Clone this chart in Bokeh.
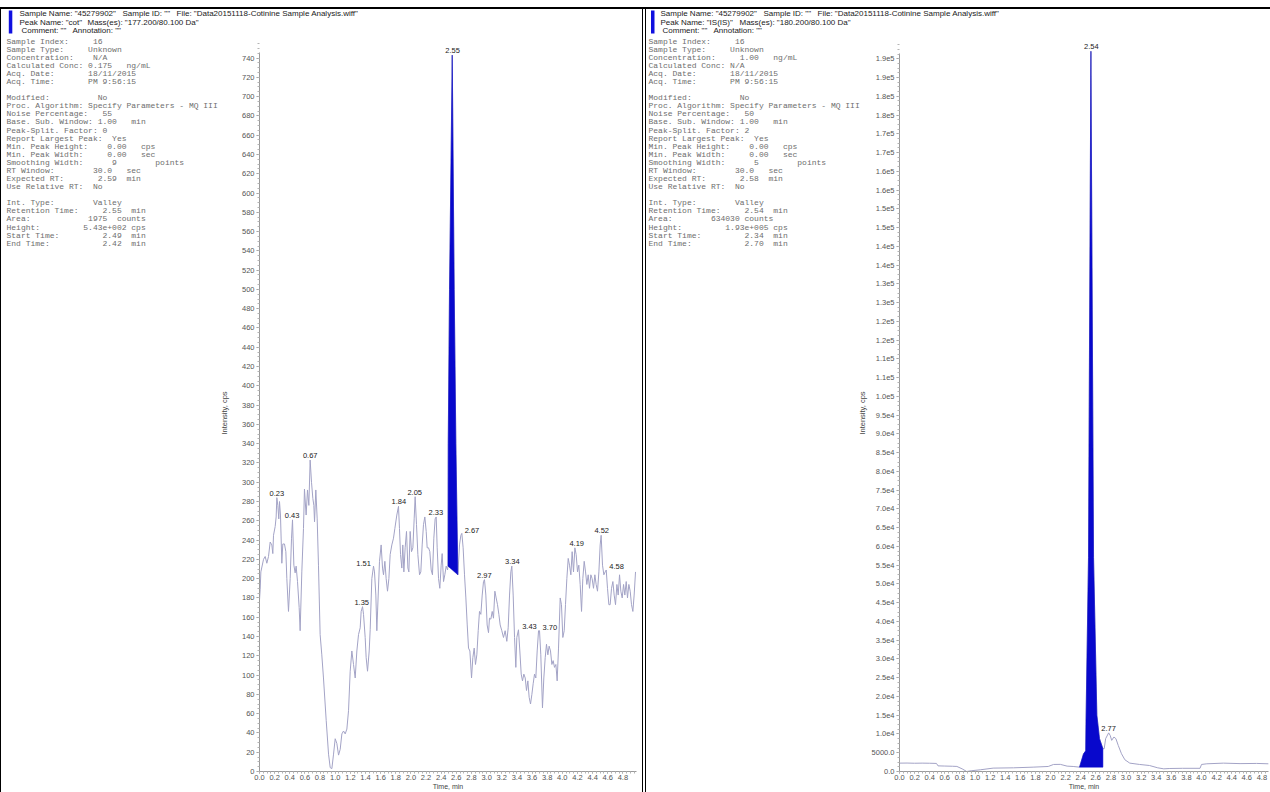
import math
from bokeh.plotting import figure
from bokeh.models import Range1d, FixedTicker
from bokeh.layouts import row, column
from bokeh.embed import file_html
from bokeh.resources import INLINE
from bokeh.core.properties import value

# ---------------- data: analyte "cot" (left) ----------------
cot_t = [0.000, 0.009, 0.018, 0.053, 0.075, 0.097, 0.119, 0.141, 0.163, 0.176, 0.185, 0.207, 0.220, 0.229,
         0.242, 0.255, 0.264, 0.277, 0.295, 0.308, 0.330, 0.348, 0.361, 0.383, 0.405, 0.423, 0.436, 0.454,
         0.471, 0.484, 0.502, 0.524, 0.537, 0.559, 0.581, 0.594, 0.616, 0.634, 0.652, 0.669, 0.687, 0.705,
         0.718, 0.727, 0.744, 0.762, 0.779, 0.801, 0.823, 0.845, 0.881, 0.912, 0.934, 0.956, 0.978, 1.000,
         1.022, 1.044, 1.066, 1.088, 1.110, 1.132, 1.154, 1.176, 1.198, 1.220, 1.242, 1.264, 1.286, 1.308,
         1.330, 1.343, 1.361, 1.374, 1.396, 1.409, 1.427, 1.449, 1.462, 1.484, 1.506, 1.519, 1.537, 1.550,
         1.568, 1.585, 1.607, 1.625, 1.638, 1.656, 1.673, 1.691, 1.709, 1.726, 1.748, 1.770, 1.788, 1.814,
         1.836, 1.849, 1.863, 1.880, 1.893, 1.907, 1.924, 1.942, 1.960, 1.973, 1.990, 2.008, 2.026, 2.043,
         2.056, 2.074, 2.092, 2.114, 2.131, 2.149, 2.166, 2.184, 2.202, 2.215, 2.233, 2.250, 2.268, 2.285,
         2.303, 2.320, 2.334, 2.347, 2.365, 2.382, 2.400, 2.413, 2.431, 2.448, 2.466, 2.484,
         2.490, 2.493, 2.510, 2.546, 2.572, 2.594, 2.620,
         2.642, 2.660, 2.673, 2.690, 2.708, 2.726, 2.744, 2.761, 2.779, 2.801, 2.818, 2.836, 2.853, 2.871,
         2.889, 2.906, 2.924, 2.942, 2.959, 2.972, 2.990, 3.007, 3.025, 3.038, 3.056, 3.074, 3.091, 3.109,
         3.126, 3.144, 3.162, 3.179, 3.201, 3.223, 3.245, 3.267, 3.285, 3.303, 3.320, 3.333, 3.351, 3.369,
         3.386, 3.399, 3.421, 3.439, 3.457, 3.474, 3.492, 3.510, 3.527, 3.545, 3.562, 3.580, 3.598, 3.615,
         3.633, 3.650, 3.668, 3.686, 3.699, 3.716, 3.738, 3.756, 3.774, 3.791, 3.809, 3.826, 3.844, 3.862,
         3.879, 3.897, 3.915, 3.932, 3.950, 3.972, 3.989, 4.007, 4.025, 4.042, 4.060, 4.078, 4.095, 4.113,
         4.130, 4.148, 4.166, 4.183, 4.201, 4.218, 4.236, 4.254, 4.271, 4.289, 4.307, 4.324, 4.342, 4.359,
         4.377, 4.394, 4.412, 4.430, 4.447, 4.465, 4.483, 4.500, 4.513, 4.531, 4.549, 4.566, 4.580, 4.597,
         4.615, 4.632, 4.650, 4.668, 4.685, 4.703, 4.721, 4.738, 4.756, 4.773, 4.791, 4.809, 4.826, 4.844,
         4.861, 4.879, 4.897, 4.914, 4.932, 4.949, 4.967]
cot_i = [178, 189, 207, 220, 223, 216, 223, 238, 235, 226, 245, 254, 264, 284,
         276, 262, 280, 266, 216, 236, 236, 228, 200, 166, 200, 242, 261, 214,
         206, 213, 197, 170, 146, 207, 252, 293, 266, 292, 276, 323, 300, 283,
         276, 259, 292, 262, 214, 142, 121, 97, 53, 18, 4, 3, 18, 34,
         29, 17, 23, 39, 42, 39, 44, 63, 104, 125, 111, 97, 125, 142,
         149, 166, 171, 163, 139, 118, 104, 125, 147, 200, 213, 207, 183, 146,
         183, 218, 235, 211, 204, 218, 200, 187, 200, 225, 235, 242, 252, 266,
         275, 252, 225, 211, 235, 207, 232, 249, 211, 207, 249, 228, 232, 262,
         285, 256, 225, 204, 207, 235, 256, 264, 249, 232, 232, 228, 209, 204,
         242, 262, 264, 232, 200, 190, 214, 226, 197, 204, 213, 209,
         213, 340, 500, 743, 500, 340, 204,
         235, 245, 247, 232, 204, 180, 152, 128, 125, 97, 118, 128, 111, 121,
         146, 166, 163, 183, 197, 199, 183, 152, 144, 159, 158, 166, 159, 187,
         180, 173, 163, 152, 146, 139, 146, 135, 149, 183, 207, 213, 183, 139,
         108, 139, 147, 125, 101, 94, 101, 97, 84, 94, 77, 70, 80, 91,
         101, 97, 125, 146, 146, 121, 66, 97, 118, 132, 121, 130, 125, 111,
         115, 108, 111, 94, 128, 180, 173, 139, 146, 173, 200, 221, 214, 204,
         228, 207, 232, 225, 207, 214, 194, 166, 200, 218, 207, 194, 204, 190,
         204, 200, 190, 204, 194, 187, 207, 235, 245, 214, 204, 207, 209, 190,
         173, 173, 190, 197, 183, 173, 194, 183, 204, 187, 180, 194, 183, 197,
         180, 194, 187, 173, 166, 183, 207]
cot_area_start = 2.490
cot_area_end = 2.620
cot_peak_rt = [0.23, 0.43, 0.67, 1.35, 1.51, 1.84, 2.05, 2.33, 2.55, 2.67, 2.97, 3.34, 3.43, 3.70, 4.19, 4.52, 4.58]
cot_peak_int = [284, 261, 323, 171, 213, 275, 285, 264, 743, 247, 199, 213, 147, 146, 232, 245, 209]
cot_peak_text = ["0.23", "0.43", "0.67", "1.35", "1.51", "1.84", "2.05", "2.33", "2.55", "2.67",
                 "2.97", "3.34", "3.43", "3.70", "4.19", "4.52", "4.58"]
cot_yticks = list(range(0, 741, 20))

# ---------------- data: internal standard "IS(IS)" (right) ----------------
is_t = [0.00, 0.10, 0.20, 0.30, 0.40, 0.49, 0.51, 0.60, 0.70, 0.76, 0.83, 0.89, 0.95, 1.07, 1.24, 1.51,
        1.77, 1.97, 2.04, 2.13, 2.22, 2.30, 2.384, 2.437, 2.466, 2.470, 2.503, 2.535, 2.570, 2.614, 2.649,
        2.694, 2.711, 2.730, 2.770, 2.790, 2.810, 2.840, 2.866, 2.897, 2.940, 2.985, 3.05, 3.18, 3.31,
        3.42, 3.50, 3.58, 3.75, 3.98, 4.00, 4.07, 4.29, 4.51, 4.73, 4.89]
is_i = [2230, 2250, 2200, 2230, 2200, 2150, 1500, 1450, 1400, 1350, 700, 0, 200, 450, 900, 980,
        1160, 1340, 1875, 1900, 1430, 1340, 1160, 4700, 5500, 13400, 57000, 192000, 57000, 15000, 8750,
        6070, 6070, 8750, 10300, 9640, 8300, 9200, 8750, 6960, 4730, 3125, 2230, 1875, 1600,
        980, 710, 800, 850, 850, 1875, 2050, 2230, 2100, 2150, 2050]
is_area_start = 2.384
is_area_end = 2.694
is_area_base = 1160
is_peak_rt = [2.54, 2.77]
is_peak_int = [192000, 10300]
is_peak_text = ["2.54", "2.77"]
is_yticks = list(range(0, 190001, 5000))
is_ytick_labels = ["0.0", "5000.0", "1.0e4", "1.5e4", "2.0e4", "2.5e4", "3.0e4", "3.5e4", "4.0e4", "4.5e4",
                   "5.0e4", "5.5e4", "6.0e4", "6.5e4", "7.0e4", "7.5e4", "8.0e4", "8.5e4", "9.0e4", "9.5e4",
                   "1.0e5", "1.1e5", "1.1e5", "1.2e5", "1.2e5", "1.3e5", "1.3e5", "1.4e5", "1.4e5", "1.5e5",
                   "1.5e5", "1.6e5", "1.6e5", "1.7e5", "1.7e5", "1.8e5", "1.8e5", "1.9e5", "1.9e5"]
x_major = [round(0.2 * k, 1) for k in range(25)]
x_labels = ["%.1f" % v for v in x_major]

# info blocks: (label, value column, value, unit column, unit); None = blank line
left_info = [
    ("Sample Index:", 18, "16", None, None),
    ("Sample Type:", 17, "Unknown", None, None),
    ("Concentration:", 18, "N/A", None, None),
    ("Calculated Conc:", 17, "0.175", 25, "ng/mL"),
    ("Acq. Date:", 17, "18/11/2015", None, None),
    ("Acq. Time:", 17, "PM 9:56:15", None, None),
    None,
    ("Modified:", 19, "No", None, None),
    ("Proc. Algorithm:", 17, "Specify Parameters - MQ III", None, None),
    ("Noise Percentage:", 20, "55", None, None),
    ("Base. Sub. Window:", 19, "1.00", 26, "min"),
    ("Peak-Split. Factor:", 20, "0", None, None),
    ("Report Largest Peak:", 22, "Yes", None, None),
    ("Min. Peak Height:", 21, "0.00", 28, "cps"),
    ("Min. Peak Width:", 21, "0.00", 28, "sec"),
    ("Smoothing Width:", 22, "9", 31, "points"),
    ("RT Window:", 18, "30.0", 25, "sec"),
    ("Expected RT:", 19, "2.59", 25, "min"),
    ("Use Relative RT:", 18, "No", None, None),
    None,
    ("Int. Type:", 18, "Valley", None, None),
    ("Retention Time:", 20, "2.55", 26, "min"),
    ("Area:", 17, "1975", 23, "counts"),
    ("Height:", 16, "5.43e+002", 26, "cps"),
    ("Start Time:", 20, "2.49", 26, "min"),
    ("End Time:", 20, "2.42", 26, "min"),
]
right_info = [
    ("Sample Index:", 18, "16", None, None),
    ("Sample Type:", 17, "Unknown", None, None),
    ("Concentration:", 19, "1.00", 26, "ng/mL"),
    ("Calculated Conc:", 17, "N/A", None, None),
    ("Acq. Date:", 17, "18/11/2015", None, None),
    ("Acq. Time:", 17, "PM 9:56:15", None, None),
    None,
    ("Modified:", 19, "No", None, None),
    ("Proc. Algorithm:", 17, "Specify Parameters - MQ III", None, None),
    ("Noise Percentage:", 20, "50", None, None),
    ("Base. Sub. Window:", 19, "1.00", 26, "min"),
    ("Peak-Split. Factor:", 20, "2", None, None),
    ("Report Largest Peak:", 22, "Yes", None, None),
    ("Min. Peak Height:", 21, "0.00", 28, "cps"),
    ("Min. Peak Width:", 21, "0.00", 28, "sec"),
    ("Smoothing Width:", 22, "5", 31, "points"),
    ("RT Window:", 18, "30.0", 25, "sec"),
    ("Expected RT:", 19, "2.58", 25, "min"),
    ("Use Relative RT:", 18, "No", None, None),
    None,
    ("Int. Type:", 18, "Valley", None, None),
    ("Retention Time:", 20, "2.54", 26, "min"),
    ("Area:", 13, "634030", 20, "counts"),
    ("Height:", 16, "1.93e+005", 26, "cps"),
    ("Start Time:", 20, "2.34", 26, "min"),
    ("End Time:", 20, "2.70", 26, "min"),
]
# header lines: (offset from header text origin, text)
left_header = [[(0, 'Sample Name: "45279902"'), (103, 'Sample ID: ""'), (157, 'File: "Data20151118-Cotinine Sample Analysis.wiff"')],
               [(0, 'Peak Name: "cot"'), (68, 'Mass(es): "177.200/80.100 Da"')],
               [(2, 'Comment: ""'), (53, 'Annotation: ""')]]
right_header = [[(0, 'Sample Name: "45279902"'), (103, 'Sample ID: ""'), (157, 'File: "Data20151118-Cotinine Sample Analysis.wiff"')],
                [(0, 'Peak Name: "IS(IS)"'), (79, 'Mass(es): "180.200/80.100 Da"')],
                [(2, 'Comment: ""'), (53, 'Annotation: ""')]]
y_title = "Intensity, cps"

SANS = "Liberation Sans"
MONO = "Liberation Mono"
TRACE = "#a3a3c6"
FILL = "#0808cc"
CHAR_W = 4.8
HDR_H = 34          # header strip: page y 0..34
BODY_H = 758        # body row: page y 34..792
FRAME_TOP = 34      # page y of chart frame top (frames of a row are aligned)
FRAME_BOTTOM = 772  # page y of chart frame bottom


def blank_fig(w, h, shadow, y0, y1):
    p = figure(width=w, height=h, x_range=Range1d(0, w), y_range=Range1d(y1, y0),
               x_axis_location=None, y_axis_location=None, min_border=0,
               output_backend="svg", toolbar_location=None)
    p.grid.visible = False
    p.outline_line_color = None
    p.background_fill_color = None
    p.border_fill_color = None
    p.styles = {"box-shadow": shadow, "background-color": "white"}
    return p


def header_fig(w, shadow, header, text_x, bar_x):
    p = blank_fig(w, HDR_H, shadow, 0, HDR_H)
    xs, ys, ts = [], [], []
    for k, parts in enumerate(header):
        for dx, txt in parts:
            xs.append(text_x + dx)
            ys.append(13 + 8.5 * k)
            ts.append(txt)
    p.text(x=xs, y=ys, text=ts, text_font=value(SANS), text_font_size="8px", text_color="#1a1a1a",
           text_align="left", text_baseline="middle")
    p.quad(left=[bar_x], right=[bar_x + 3.5], top=[10], bottom=[33], fill_color="#1010e0", line_color=None)
    return p


def info_fig(w, shadow, infos, text_x, title_x):
    # y data units = page pixels; the frame of this figure is aligned with the chart frame
    p = blank_fig(w, BODY_H, shadow, FRAME_TOP, FRAME_BOTTOM)
    xs, ys, ts = [], [], []
    for k, item in enumerate(infos):
        if item is None:
            continue
        name, c1, val, c2, unit = item
        yy = 40.7 + 8.09 * k
        xs += [text_x, text_x + c1 * CHAR_W]
        ys += [yy, yy]
        ts += [name, val]
        if unit:
            xs.append(text_x + c2 * CHAR_W)
            ys.append(yy)
            ts.append(unit)
    p.text(x=xs, y=ys, text=ts, text_font=value(MONO), text_font_size="8px", text_color="#6e6e6e",
           text_align="left", text_baseline="middle")
    # y axis title of the neighbouring chart
    p.text(x=[title_x], y=[413], text=[y_title], angle=math.pi / 2, text_align="center",
           text_baseline="middle", text_font=value(SANS), text_font_size="7.5px", text_color="#444444")
    return p


def chart_fig(t, inten, y_top, y_axis_top, yticks, ytick_over, peak_rt, peak_int, peak_text, side,
              area_x, area_y, x_end, width, border_left, border_right, shadow):
    p = figure(width=width, height=BODY_H, min_border_left=border_left,
               min_border_right=border_right, min_border_top=0, min_border_bottom=20,
               x_range=Range1d(0, x_end), y_range=Range1d(0, y_top),
               output_backend="svg", toolbar_location=None)
    p.outline_line_color = None
    p.background_fill_color = "white"
    p.border_fill_color = None
    p.xgrid.visible = False
    p.ygrid.visible = False
    p.styles = {"box-shadow": shadow, "background-color": "white"}

    for ax in (p.xaxis[0], p.yaxis[0]):
        ax.axis_line_color = "#9a9a9a"
        ax.major_tick_line_color = "#9a9a9a"
        ax.minor_tick_line_color = "#b5b5b5"
        ax.major_tick_out = 3
        ax.major_tick_in = 0
        ax.minor_tick_out = 2
        ax.minor_tick_in = 0
        ax.major_label_text_font = SANS
        ax.major_label_text_font_size = "7.5px"
        ax.major_label_text_color = "#555555"
        ax.major_label_standoff = 2
        ax.axis_label_text_font = SANS
        ax.axis_label_text_font_style = "normal"
        ax.axis_label_text_color = "#444444"
    p.xaxis.major_tick_out = 2
    p.xaxis.major_label_standoff = 1
    p.xaxis.axis_label = "Time, min"
    p.xaxis.axis_label_text_font_size = "7px"
    p.xaxis.axis_label_standoff = 0
    p.yaxis.bounds = (0, y_axis_top)

    p.xaxis.ticker = FixedTicker(ticks=x_major, minor_ticks=[round(0.05 * k, 2) for k in range(100)])
    p.xaxis.major_label_overrides = {v: s for v, s in zip(x_major, x_labels)}
    step = yticks[1] - yticks[0]
    p.yaxis.ticker = FixedTicker(ticks=yticks, minor_ticks=[yticks[0] + step * k / 4 for k in range(4 * len(yticks))])
    if ytick_over is not None:
        p.yaxis.major_label_overrides = {v: s for v, s in zip(yticks, ytick_over)}

    p.line(t, inten, line_color=TRACE, line_width=1)
    p.patch(area_x, area_y, fill_color=FILL, line_color=FILL, line_width=0.5)

    for code, align, xo, base, yo in (("c", "center", 0, "bottom", -2),
                                      ("l", "left", 3, "middle", -3),
                                      ("r", "right", -3, "middle", -3)):
        idx = [i for i, s in enumerate(side) if s == code]
        if not idx:
            continue
        p.text(x=[peak_rt[i] for i in idx], y=[peak_int[i] for i in idx],
               text=[peak_text[i] for i in idx], text_align=align, text_baseline=base,
               x_offset=xo, y_offset=yo, text_font=value(SANS), text_font_size="7.5px",
               text_color="#222222")
    return p


# fill areas built from the data arrays
cot_ax = [x for x in cot_t if cot_area_start <= x <= cot_area_end]
cot_ay = [y for x, y in zip(cot_t, cot_i) if cot_area_start <= x <= cot_area_end]
is_ax = [x for x in is_t if is_area_start <= x <= is_area_end] + [is_area_end]
is_ay = [y for x, y in zip(is_t, is_i) if is_area_start <= x <= is_area_end] + [is_area_base]

cot_side = ["c", "c", "c", "c", "r", "c", "c", "c", "c", "l", "c", "c", "l", "l", "c", "c", "l"]
is_side = ["c", "c"]

TOP = "inset 0 7px 0 0 #fff, inset 0 9px 0 0 #000"
RIGHT_DOUBLE = "inset -2px 0 0 0 #fff, inset -3px 0 0 0 #000"
LEFT_LINE = "inset 1px 0 0 0 #000"

# left panel (page x 0..645)
hdr_l = header_fig(645, TOP + ", " + RIGHT_DOUBLE + ", " + LEFT_LINE, left_header, 19, 8.3)
info_l = info_fig(231, LEFT_LINE, left_info, 6, 224)
chart_l = chart_fig(cot_t, cot_i, 764.4, 746, cot_yticks, None, cot_peak_rt, cot_peak_int, cot_peak_text,
                    cot_side, cot_ax, cot_ay, 4.98, 414, 28, 9, RIGHT_DOUBLE)
# right panel (page x 645..1270)
hdr_r = header_fig(625, TOP + ", " + LEFT_LINE, right_header, 15, 5.5)
info_r = info_fig(223, LEFT_LINE, right_info, 3, 217)
chart_r = chart_fig(is_t, is_i, 196470, 191500, is_yticks, is_ytick_labels, is_peak_rt, is_peak_int,
                    is_peak_text, is_side, is_ax, is_ay, 4.887, 402, 31, 2, "none")

panel_l = column(hdr_l, row(info_l, chart_l, spacing=0), spacing=0)
panel_r = column(hdr_r, row(info_r, chart_r, spacing=0), spacing=0)
layout = row(panel_l, panel_r, spacing=0)
open("out.html", "w").write(file_html(layout, INLINE))
